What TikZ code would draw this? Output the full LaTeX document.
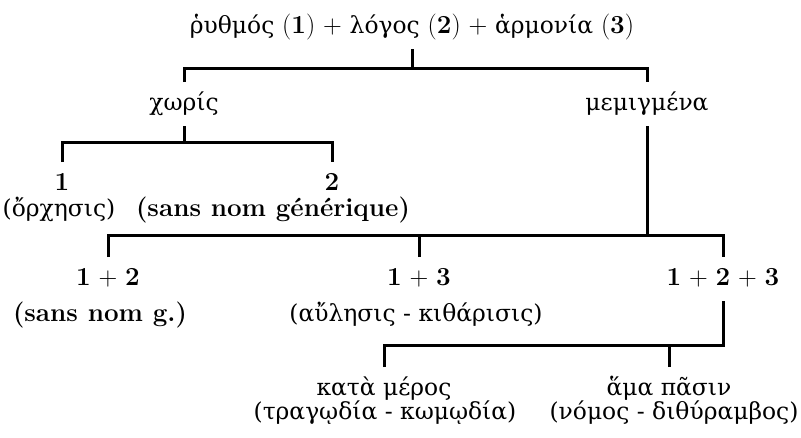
\documentclass[tikz,border=0pt]{standalone}
\usepackage{fontspec}
\usepackage{tikz}
\usetikzlibrary{positioning}
\newfontfamily\grk{DejaVu Serif}[Scale=0.9]
\tikzset{
  % --- labels ----------------------------------------------------------------
  lab/.style={anchor=base,inner sep=0pt,font=\fontsize{26}{30}\selectfont},
  head/.style={lab,text height=18pt,text depth=6pt,outer sep=10pt}, % tree nodes
  gloss/.style={lab},                                                % notes below
  % --- brackets --------------------------------------------------------------
  tree/.style={line width=3pt,line join=miter},
}

\begin{document}
\begin{tikzpicture}[x=1pt, y=-1pt]
  \useasboundingbox (0,0) rectangle (801,437);

  \node[head] (root) at (412,33)
    {{\grk ῥυθμός} (\textbf{1}) + {\grk λόγος} (\textbf{2}) + {\grk ἁρμονία} (\textbf{3})};
  \node[head] (chor) at (184,110) {\grk χωρίς};
  \node[head] (mem)  at (647,110) {\grk μεμιγμένα};

  \node[head]  (n1) at (62,190)  {\textbf{1}};
  \node[head]  (n2) at (332,190) {\textbf{2}};
  \node[gloss] (g1) at (59,216)  {\grk (ὄρχησις)};
  \node[gloss] (g2) at (273,216) {\bfseries (sans nom générique)};

  \node[head]  (n12)  at (108,285) {\textbf{1} + \textbf{2}};
  \node[head]  (n13)  at (419,285) {\textbf{1} + \textbf{3}};
  \node[head]  (n123) at (723,285) {\textbf{1} + \textbf{2} + \textbf{3}};
  \node[gloss] (g12)  at (100,321) {\bfseries (sans nom g.)};
  \node[gloss] (g13)  at (416,321) {\grk (αὔλησις - κιθάρισις)};

  \node[head]  (kata)  at (384,395) {\grk κατὰ μέρος};
  \node[head]  (hama)  at (669,395) {\grk ἅμα πᾶσιν};
  \node[gloss] (gkata) at (385,419) {\grk (τραγῳδία - κωμῳδία)};
  \node[gloss] (ghama) at (674,419) {\grk (νόμος - διθύραμβος)};

  % bar levels
  \coordinate (b1) at (0,68);
  \coordinate (b2) at (0,142);
  \coordinate (b3) at (0,235);
  \coordinate (b4) at (0,345);

  \draw[tree] (root.south) -- (root.south |- b1);
  \draw[tree] (chor.north) -- (chor.north |- b1) -- (mem.north |- b1) -- (mem.north);

  \draw[tree] (chor.south) -- (chor.south |- b2);
  \draw[tree] (n1.north) -- (n1.north |- b2) -- (n2.north |- b2) -- (n2.north);

  \draw[tree] (mem.south) -- (mem.south |- b3);
  \draw[tree] (n12.north) -- (n12.north |- b3) -- (n123.north |- b3) -- (n123.north);
  \draw[tree] (n13.north) -- (n13.north |- b3);

  \draw[tree] (kata.north) -- (kata.north |- b4) -- (n123.south |- b4) -- (n123.south);
  \draw[tree] (hama.north) -- (hama.north |- b4);
\end{tikzpicture}
\end{document}
